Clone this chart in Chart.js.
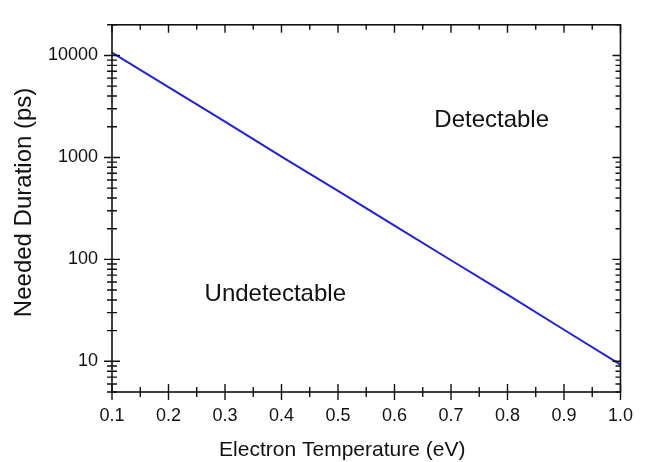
<!DOCTYPE html>
<html>
<head>
<meta charset="utf-8">
<script src="https://cdn.jsdelivr.net/npm/chart.js@4.4.1/dist/chart.umd.min.js"></script>
<style>
  html, body { margin: 0; padding: 0; background: #fff; }
  #wrap { width: 646px; height: 462px; }
</style>
</head>
<body>
<div id="wrap"><canvas id="chart" width="646" height="462"></canvas></div>
<script>
// electron temperature (eV) vs needed duration (ps)
const temperature = [0.1, 0.2, 0.3, 0.4, 0.5, 0.6, 0.7, 0.8, 0.9, 1.0]
const duration = [10700, 4900, 2240, 1020, 470, 214, 98, 45, 20.4, 9.3]
const xTicks = [0.1, 0.2, 0.3, 0.4, 0.5, 0.6, 0.7, 0.8, 0.9, 1.0]
const yTicks = [10, 100, 1000, 10000]
const regionLabels = ['Detectable', 'Undetectable']
const regionPos = [[0.772, 2320], [0.389, 45]]
const xTitle = 'Electron Temperature (eV)'
const yTitle = 'Needed Duration (ps)'

const FONT = "'Liberation Sans', Arial, sans-serif"

// frame, crossing ticks, region labels and both axis titles (a bit off centre in the original)
const framePlugin = {
  id: 'frame',
  afterDraw (chart) {
    const { ctx, chartArea: a, scales } = chart
    const x = scales.x
    const y = scales.y
    ctx.save()
    ctx.strokeStyle = '#111'
    ctx.lineWidth = 1.6
    ctx.strokeRect(a.left, a.top, a.right - a.left, a.bottom - a.top)

    ctx.lineWidth = 1.4
    ctx.beginPath()
    // x ticks: majors every 0.1, minors halfway
    for (let i = 0; i < xTicks.length; i++) {
      const px = x.getPixelForValue(xTicks[i])
      ctx.moveTo(px, a.bottom - 8); ctx.lineTo(px, a.bottom + 8)
      ctx.moveTo(px, a.top); ctx.lineTo(px, a.top + 8)
      if (i < xTicks.length - 1) {
        const pm = x.getPixelForValue((xTicks[i] + xTicks[i + 1]) / 2)
        ctx.moveTo(pm, a.bottom - 5); ctx.lineTo(pm, a.bottom + 5)
        ctx.moveTo(pm, a.top); ctx.lineTo(pm, a.top + 5)
      }
    }
    // y ticks: decades plus 2..9 minors
    for (let d = 1; d <= 10000; d *= 10) {
      for (let m = 1; m <= 9; m++) {
        const v = d * m
        if (v < y.min || v > y.max) continue
        const py = y.getPixelForValue(v)
        const len = m === 1 ? 8 : 5
        ctx.moveTo(a.left - len, py); ctx.lineTo(a.left + len, py)
        ctx.moveTo(a.right - len, py); ctx.lineTo(a.right, py)
      }
    }
    ctx.stroke()

    ctx.fillStyle = '#111'
    ctx.font = '24px ' + FONT
    ctx.textAlign = 'center'
    ctx.textBaseline = 'middle'
    regionLabels.forEach((t, i) => {
      ctx.fillText(t, x.getPixelForValue(regionPos[i][0]), y.getPixelForValue(regionPos[i][1]))
    })

    ctx.font = '21px ' + FONT
    ctx.fillText(xTitle, (a.left + a.right) / 2 - 24, a.bottom + 58)

    ctx.font = '24px ' + FONT
    ctx.translate(24, (a.top + a.bottom) / 2 - 6)
    ctx.rotate(-Math.PI / 2)
    ctx.fillText(yTitle, 0, 0)
    ctx.restore()
  }
}

// eslint-disable-next-line no-new
new Chart(document.getElementById('chart'), {
  type: 'line',
  data: {
    datasets: [{
      data: temperature.map((t, i) => ({ x: t, y: duration[i] })),
      borderColor: 'rgb(35, 35, 205)',
      borderWidth: 2,
      pointRadius: 0,
      tension: 0
    }]
  },
  options: {
    responsive: false,
    animation: false,
    layout: { padding: { top: 11, right: 14, left: 0, bottom: 0 } },
    plugins: { legend: { display: false }, tooltip: { enabled: false } },
    scales: {
      x: {
        type: 'linear',
        min: 0.1,
        max: 1.0,
        afterBuildTicks: s => { s.ticks = xTicks.map(v => ({ value: v })) },
        afterFit: s => { s.height = 70 },
        grid: { display: false, drawTicks: false },
        border: { display: false },
        ticks: {
          color: '#111',
          font: { family: FONT, size: 18 },
          padding: 13,
          maxRotation: 0,
          callback: v => v.toFixed(1)
        }
      },
      y: {
        type: 'logarithmic',
        min: 5,
        max: 20000,
        afterBuildTicks: s => { s.ticks = yTicks.map(v => ({ value: v })) },
        afterFit: s => { s.width = 112 },
        grid: { display: false, drawTicks: false },
        border: { display: false },
        ticks: {
          color: '#111',
          font: { family: FONT, size: 18 },
          padding: 14,
          callback: v => String(v)
        }
      }
    }
  },
  plugins: [framePlugin]
})
</script>
</body>
</html>
